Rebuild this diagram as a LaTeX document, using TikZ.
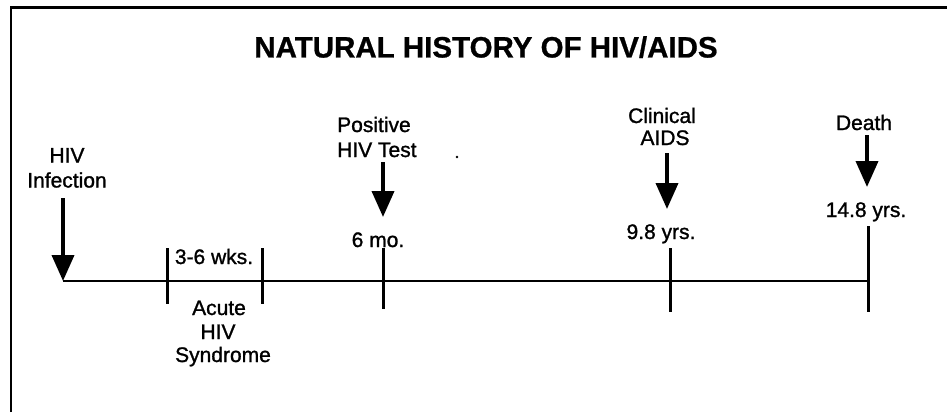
\documentclass[tikz,border=0pt]{standalone}
\usepackage{fontspec}
\setmainfont{Liberation Sans}
\newfontface\lblface[FakeBold=1.2]{Liberation Sans}
\newfontface\ttlface[FakeBold=0.8]{Liberation Sans Bold}
\usetikzlibrary{arrows.meta}
\begin{document}
\begin{tikzpicture}[x=1pt,y=-1pt,
  lbl/.style={inner sep=0pt, anchor=base, font=\lblface\fontsize{21}{25}\selectfont},
  ttl/.style={inner sep=0pt, anchor=base, font=\ttlface\fontsize{29.5}{34}\selectfont},
  evarrow/.style={line width=3.8pt, -{Triangle[length=26pt,width=22pt]}},
  tickline/.style={line width=3pt},
  axisline/.style={line width=2pt},
  frameline/.style={line width=2.5pt}]
\useasboundingbox (0,0) rectangle (947,412);
% frame
\coordinate (fb) at (11,412);
\coordinate (fc) at (11,7.5);
\coordinate (fr) at (947,7.5);
\draw[frameline] (fb) -- (fc) -- (fr);
% title
\node[ttl] (title) at (486,57.5) {NATURAL HISTORY OF HIV/AIDS};
% labels
\node[lbl] (hiv1) at (67,162.5) {HIV};
\node[lbl] (inf) at (67,187.5) {Infection};
\node[lbl] (wks) at (214,264) {3-6 wks.};
\node[lbl] (acute) at (219,315) {Acute};
\node[lbl] (hiv2) at (218,339) {HIV};
\node[lbl] (synd) at (223,362) {Syndrome};
\node[lbl, anchor=base west] (pos) at (337,132) {Positive};
\node[lbl, anchor=base west] (hivt) at (337,157) {HIV Test};
\node[lbl] (mo6) at (378,247) {6 mo.};
\node[lbl] (clin) at (662,123) {Clinical};
\node[lbl] (aids) at (665,145) {AIDS};
\node[lbl] (yrs98) at (661,239) {9.8 yrs.};
\node[lbl] (death) at (864,130) {Death};
\node[lbl] (yrs148) at (866,217) {14.8 yrs.};
\fill (457,157) circle (1.3pt);
% axis
\coordinate (ax0) at (63,281);
\coordinate (ax1) at (868,281);
\draw[axisline] (ax0) -- (ax1);
% ticks
\coordinate (t1a) at (167,248); \coordinate (t1b) at (167,304);
\coordinate (t2a) at (262,248); \coordinate (t2b) at (262,304);
\coordinate (t3a) at (383,248); \coordinate (t3b) at (383,309);
\coordinate (t4a) at (670,248); \coordinate (t4b) at (670,312);
\coordinate (t5a) at (868,226); \coordinate (t5b) at (868,312);
\draw[tickline] (t1a) -- (t1b);
\draw[tickline] (t2a) -- (t2b);
\draw[tickline] (t3a) -- (t3b);
\draw[tickline] (t4a) -- (t4b);
\draw[tickline] (t5a) -- (t5b);
% arrows
\coordinate (a1s) at (63,198);
\coordinate (a2s) at (383,162); \coordinate (a2e) at (383,217);
\coordinate (a3s) at (667,153); \coordinate (a3e) at (667,209);
\coordinate (a4s) at (867,135); \coordinate (a4e) at (867,187);
\draw[evarrow] (a1s) -- (ax0);
\draw[evarrow] (a2s) -- (a2e);
\draw[evarrow] (a3s) -- (a3e);
\draw[evarrow] (a4s) -- (a4e);
\end{tikzpicture}
\end{document}
